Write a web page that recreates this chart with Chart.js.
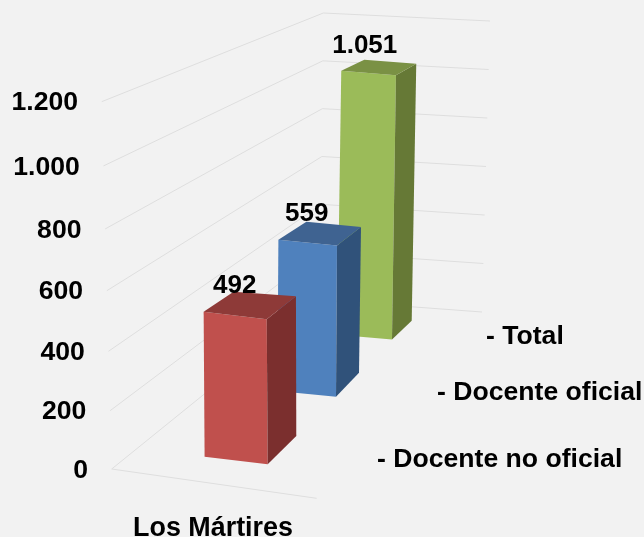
<!DOCTYPE html>
<html>
<head>
<meta charset="utf-8">
<script src="https://cdn.jsdelivr.net/npm/chart.js@4"></script>
<style>
  html, body { margin: 0; padding: 0; background: #f2f2f2; }
  canvas { display: block; }
</style>
</head>
<body>
<canvas id="docentes" width="644" height="537"></canvas>
<script>
  // data
  var categories = ["Los Mártires"];
  var seriesNames = ["- Docente no oficial", "- Docente oficial", "- Total"];
  var noOficial = [492];
  var oficial = [559];
  var total = [1051];
  var valueLabels = ["492", "559", "1.051"];
  var tickLabels = ["0", "200", "400", "600", "800", "1.000", "1.200"];

  // look of the 3d box of each series, same order as the datasets
  var boxes = [
    { front: "#c0504d", side: "#7b2f2e", top: "#8e3a38", yMax: 1246, lean: -0.0066,
      baseLeft: [204.6, 456.8], baseRight: [267.7, 464.3],
      floorDepth: [28.6, -28.3], topDepthR: [29.2, -23], topDepthL: [30, -20],
      legend: [377, 459.5], labelOffset: [-15, -18.5] },
    { front: "#4f81bd", side: "#30527a", top: "#3f6391", yMax: 1358, lean: 0.0066,
      baseLeft: [277.4, 391], baseRight: [336, 396.7],
      floorDepth: [23, -24], topDepthR: [24, -18.5], topDepthL: [28, -18],
      legend: [437, 393], labelOffset: [-13, -19.5] },
    { front: "#9bbb59", side: "#667936", top: "#7a9144", yMax: 1462, lean: 0.015,
      baseLeft: [337.3, 334.7], baseRight: [392, 339.4],
      floorDepth: [19.7, -18.7], topDepthR: [20.3, -11.7], topDepthL: [23, -11],
      legend: [486, 337], labelOffset: [-14, -21.5] }
  ];

  // walls of the box, ends of the gridlines at value 0 and at the top value
  var wall = {
    left: [[111.7, 469], [101.7, 101.7]],
    corner: [[320.5, 300], [323.3, 13]],
    right: [[482, 312], [490, 21]],
    frontEnd: [316.7, 498.3]
  };

  function lerp(p, t) {
    return [p[0][0] + (p[1][0] - p[0][0]) * t, p[0][1] + (p[1][1] - p[0][1]) * t];
  }

  // y axis on the left wall, the steps grow towards the bottom
  class WallScale extends Chart.LinearScale {
    getPixelForValue(value) {
      var t = value / this.max, e = -0.0566;
      return this.bottom + (this.top - this.bottom) * t * (1 + e) / (1 + e * t);
    }
    _computeLabelItems(chartArea) {
      var items = super._computeLabelItems(chartArea);
      items.forEach(function (item) {
        var y = item.options.translation[1];
        var x = wall.left[0][0] + (wall.left[1][0] - wall.left[0][0]) * (wall.left[0][1] - y) / (wall.left[0][1] - wall.left[1][1]);
        item.options.translation[0] = x - 23.7;
        item.options.translation[1] = y + 1.3;
      });
      return items;
    }
  }
  WallScale.id = "wall";
  WallScale.defaults = {};
  Chart.register(WallScale);

  function poly(ctx, pts, color) {
    ctx.beginPath();
    ctx.moveTo(pts[0][0], pts[0][1]);
    for (var i = 1; i < pts.length; i++) ctx.lineTo(pts[i][0], pts[i][1]);
    ctx.closePath();
    ctx.fillStyle = color;
    ctx.fill();
  }

  // corners of the front face once the bar has been sheared into place
  function frontFace(bar, box) {
    var h = bar.base - bar.y;
    var s = [box.baseLeft[0] + box.lean * h, box.baseLeft[1] - h];
    var t = [box.baseRight[0] + box.lean * h, box.baseRight[1] - h];
    return { tl: s, tr: t, br: box.baseRight };
  }

  var walls = {
    id: "walls",
    beforeDatasetsDraw: function (chart) {
      var ctx = chart.ctx, scale = chart.scales.y;
      ctx.save();
      ctx.strokeStyle = "#dedede";
      ctx.lineWidth = 1;
      scale.ticks.forEach(function (tick) {
        var t = tick.value / scale.max;
        var y = scale.getPixelForValue(tick.value);
        var a = lerp(wall.left, (wall.left[0][1] - y) / (wall.left[0][1] - wall.left[1][1]));
        var b = lerp(wall.corner, t), c = lerp(wall.right, t);
        ctx.beginPath();
        ctx.moveTo(a[0], a[1]);
        ctx.lineTo(b[0], b[1]);
        ctx.lineTo(c[0], c[1]);
        ctx.stroke();
      });
      ctx.beginPath();
      ctx.moveTo(wall.left[0][0], wall.left[0][1]);
      ctx.lineTo(wall.frontEnd[0], wall.frontEnd[1]);
      ctx.stroke();
      ctx.restore();
    }
  };

  var box3d = {
    id: "box3d",
    beforeDatasetDraw: function (chart, args) {
      var ctx = chart.ctx, box = boxes[args.index], bar = args.meta.data[0];
      var l = bar.x - bar.width / 2;
      var a = (box.baseRight[0] - box.baseLeft[0]) / bar.width;
      var b = (box.baseRight[1] - box.baseLeft[1]) / bar.width;
      var c = -box.lean;
      ctx.save();
      ctx.transform(a, b, c, 1, box.baseLeft[0] - a * l - c * bar.base, box.baseLeft[1] - b * l - bar.base);
    },
    afterDatasetDraw: function (chart, args) {
      var ctx = chart.ctx, box = boxes[args.index], bar = args.meta.data[0];
      ctx.restore();
      var f = frontFace(bar, box);
      var backR = [f.tr[0] + box.topDepthR[0], f.tr[1] + box.topDepthR[1]];
      var backL = [f.tl[0] + box.topDepthL[0], f.tl[1] + box.topDepthL[1]];
      var floorR = [f.br[0] + box.floorDepth[0], f.br[1] + box.floorDepth[1]];
      poly(ctx, [f.tr, backR, floorR, f.br], box.side);
      poly(ctx, [f.tl, backL, backR, f.tr], box.top);
    },
    afterDatasetsDraw: function (chart) {
      var ctx = chart.ctx;
      ctx.save();
      ctx.fillStyle = "#000";
      ctx.textBaseline = "middle";
      chart.getSortedVisibleDatasetMetas().forEach(function (meta) {
        var box = boxes[meta.index], f = frontFace(meta.data[0], box);
        var cx = (f.tl[0] + f.tr[0] + box.topDepthR[0]) / 2;
        var cy = (f.tl[1] + f.tr[1] + box.topDepthR[1]) / 2;
        ctx.font = "bold 26px 'Liberation Sans'";
        ctx.textAlign = "center";
        ctx.fillText(valueLabels[meta.index], cx + box.labelOffset[0], cy + box.labelOffset[1]);
        ctx.font = "bold 26.6px 'Liberation Sans'";
        ctx.textAlign = "left";
        ctx.fillText(seriesNames[meta.index], box.legend[0], box.legend[1]);
      });
      ctx.restore();
    }
  };

  var hiddenAxis = function (i) {
    return { type: "linear", display: false, min: 0, max: boxes[i].yMax };
  };

  var docentesChart = new Chart(document.getElementById("docentes"), {
    type: "bar",
    plugins: [walls, box3d],
    data: {
      labels: categories,
      datasets: [
        { label: seriesNames[0], data: noOficial, yAxisID: "yNoOficial", backgroundColor: boxes[0].front, clip: false },
        { label: seriesNames[1], data: oficial, yAxisID: "yOficial", backgroundColor: boxes[1].front, clip: false },
        { label: seriesNames[2], data: total, yAxisID: "yTotal", backgroundColor: boxes[2].front, clip: false }
      ]
    },
    options: {
      responsive: false,
      animation: false,
      layout: { padding: { top: 101.7, right: 308, bottom: 0, left: 0 } },
      plugins: { legend: { display: false }, title: { display: false }, tooltip: { enabled: false } },
      scales: {
        x: {
          grid: { display: false, drawTicks: false },
          border: { display: false },
          ticks: { color: "#000", font: { family: "Liberation Sans", size: 26.9, weight: "bold" }, padding: 43.5, maxRotation: 0 },
          afterFit: function (scale) { scale.height = 68; }
        },
        y: {
          type: "wall",
          min: 0,
          max: 1200,
          grid: { display: false, drawTicks: false },
          border: { display: false },
          ticks: {
            stepSize: 200,
            autoSkip: false,
            color: "#000",
            font: { family: "Liberation Sans", size: 26.6, weight: "bold" },
            callback: function (v, i) { return tickLabels[i]; }
          },
          afterFit: function (scale) { scale.width = 90; }
        },
        yNoOficial: hiddenAxis(0),
        yOficial: hiddenAxis(1),
        yTotal: hiddenAxis(2)
      }
    }
  });
</script>
</body>
</html>
